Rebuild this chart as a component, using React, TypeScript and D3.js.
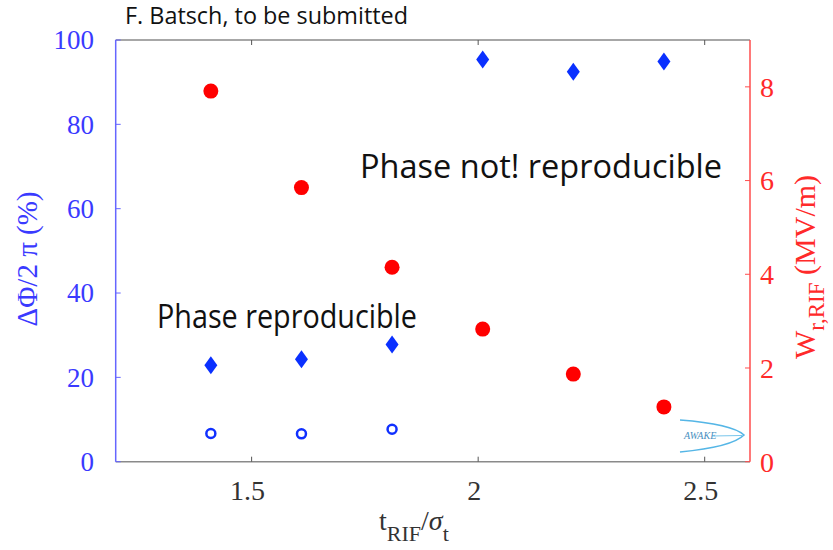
import React from "react";
import * as d3 from "d3";

const xValues = [1.41, 1.61, 1.81, 2.01, 2.21, 2.41];
const phaseDiamonds = [22.9, 24.3, 27.8, 95.4, 92.5, 94.9];
const phaseCircleX = [1.41, 1.61, 1.81];
const phaseCircles = [6.7, 6.6, 7.7];
const fieldValues = [7.91, 5.85, 4.15, 2.83, 1.87, 1.17];
const xTicks = [1.5, 2, 2.5];
const xTickLabels = ["1.5", "2", "2.5"];
const leftTicks = [0, 20, 40, 60, 80, 100];
const rightTicks = [0, 2, 4, 6, 8];

const W = 833;
const H = 550;
const plot = { left: 115.7, right: 750, top: 40, bottom: 461.7 };

export default function App() {
  const x = d3.scaleLinear().domain([1.2, 2.6]).range([plot.left, plot.right]);
  const yL = d3.scaleLinear().domain([0, 100]).range([plot.bottom, plot.top]);
  const yR = d3.scaleLinear().domain([0, 9]).range([plot.bottom, plot.top]);

  const serif = "'Liberation Serif', 'DejaVu Serif', serif";
  const sans = "'Open Sans', 'Noto Sans', sans-serif";
  const axisBlue = "#6666ff";
  const labelBlue = "#3a3aff";
  const axisRed = "#ff4d4d";
  const labelRed = "#ff2a2a";
  const gray = "#8a8a8a";

  const diamond = (cx: number, cy: number) => {
    const w = 6.5, h = 9;
    return `M${cx},${cy - h}L${cx + w},${cy}L${cx},${cy + h}L${cx - w},${cy}Z`;
  };

  return (
    <svg width={W} height={H} style={{ position: "absolute", left: 0, top: 0, background: "#fff" }}>
      <rect x={0} y={0} width={W} height={H} fill="#fff" />
      {/* top & bottom axes */}
      <line x1={plot.left} x2={plot.right} y1={plot.top} y2={plot.top} stroke={gray} strokeWidth={1.5} />
      <line x1={plot.left} x2={plot.right} y1={plot.bottom} y2={plot.bottom} stroke={gray} strokeWidth={1.5} />
      {xTicks.map((t) => (
        <g key={"xt" + t}>
          <line x1={x(t)} x2={x(t)} y1={plot.bottom} y2={plot.bottom - 5} stroke="#555" strokeWidth={1} />
          <line x1={x(t)} x2={x(t)} y1={plot.top} y2={plot.top + 5} stroke="#555" strokeWidth={1} />
        </g>
      ))}
      {xTicks.map((t, i) => (
        <text key={"xl" + t} x={x(t) - 4} y={500} textAnchor="middle" fontFamily={serif} fontSize={28} fill="#333">
          {xTickLabels[i]}
        </text>
      ))}
      {/* x title */}
      <text x={379} y={530} fontFamily={serif} fontSize={28} fill="#333">
        t
        <tspan fontSize={22} dy={11}>RIF</tspan>
        <tspan dy={-11}>/</tspan>
        <tspan fontStyle="italic">σ</tspan>
        <tspan fontSize={22} dy={11}>t</tspan>
      </text>

      {/* left axis */}
      <line x1={plot.left} x2={plot.left} y1={plot.top} y2={plot.bottom} stroke={axisBlue} strokeWidth={1.5} />
      {leftTicks.map((t) => (
        <g key={"lt" + t}>
          <line x1={plot.left} x2={plot.left + 5} y1={yL(t)} y2={yL(t)} stroke={axisBlue} strokeWidth={1} />
          <text x={94} y={yL(t)} dy="0.35em" textAnchor="end" fontFamily={serif} fontSize={27} fill={labelBlue}>
            {t}
          </text>
        </g>
      ))}
      <text
        transform={`translate(37,259) rotate(-90)`}
        textAnchor="middle"
        fontFamily={serif}
        fontSize={29}
        fill={labelBlue}
      >
        ΔΦ/2 π (%)
      </text>

      {/* right axis */}
      <line x1={plot.right} x2={plot.right} y1={plot.top} y2={plot.bottom} stroke={axisRed} strokeWidth={1.5} />
      {rightTicks.map((t) => (
        <g key={"rt" + t}>
          <line x1={plot.right} x2={plot.right - 5} y1={yR(t)} y2={yR(t)} stroke={axisRed} strokeWidth={1} />
          <text x={760} y={yR(t)} dy="0.35em" textAnchor="start" fontFamily={serif} fontSize={28} fill={labelRed}>
            {t}
          </text>
        </g>
      ))}
      <text transform={`translate(815,267) rotate(-90)`} textAnchor="middle" fontFamily={serif} fontSize={30} fill={labelRed}>
        W
        <tspan fontSize={23} dy={9}>r,RIF</tspan>
        <tspan dy={-9}>{"  (MV/m)"}</tspan>
      </text>

      {/* AWAKE logo */}
      <g>
        <path d="M680,420 Q732,424 744,435 Q732,447 680,452" fill="none" stroke="#55b6e6" strokeWidth={1.6} />
        <text x={684} y={439} fontFamily={serif} fontSize={10} fontStyle="italic" fill="#4a8fc0">AWAKE</text>
        <line x1={712} x2={742} y1={436} y2={435.5} stroke="#55b6e6" strokeWidth={0.8} />
      </g>

      {/* data */}
      {xValues.map((v, i) => (
        <circle key={"r" + i} cx={x(v)} cy={yR(fieldValues[i])} r={7.5} fill="#ff0000" />
      ))}
      {xValues.map((v, i) => (
        <path key={"d" + i} d={diamond(x(v), yL(phaseDiamonds[i]))} fill="#0a30ff" />
      ))}
      {phaseCircleX.map((v, i) => (
        <circle key={"c" + i} cx={x(v)} cy={yL(phaseCircles[i])} r={4.5} fill="none" stroke="#1030ff" strokeWidth={2.5} />
      ))}

      {/* annotations */}
      <text x={125} y={24} fontFamily={sans} fontSize={23} fill="#111" textLength={283} lengthAdjust="spacingAndGlyphs">
        F. Batsch, to be submitted
      </text>
      <text x={360} y={178} fontFamily={sans} fontSize={32} fill="#111" textLength={362} lengthAdjust="spacingAndGlyphs">
        Phase not! reproducible
      </text>
      <text x={157} y={328} fontFamily={sans} fontSize={32} fill="#111" textLength={260} lengthAdjust="spacingAndGlyphs">
        Phase reproducible
      </text>
    </svg>
  );
}
